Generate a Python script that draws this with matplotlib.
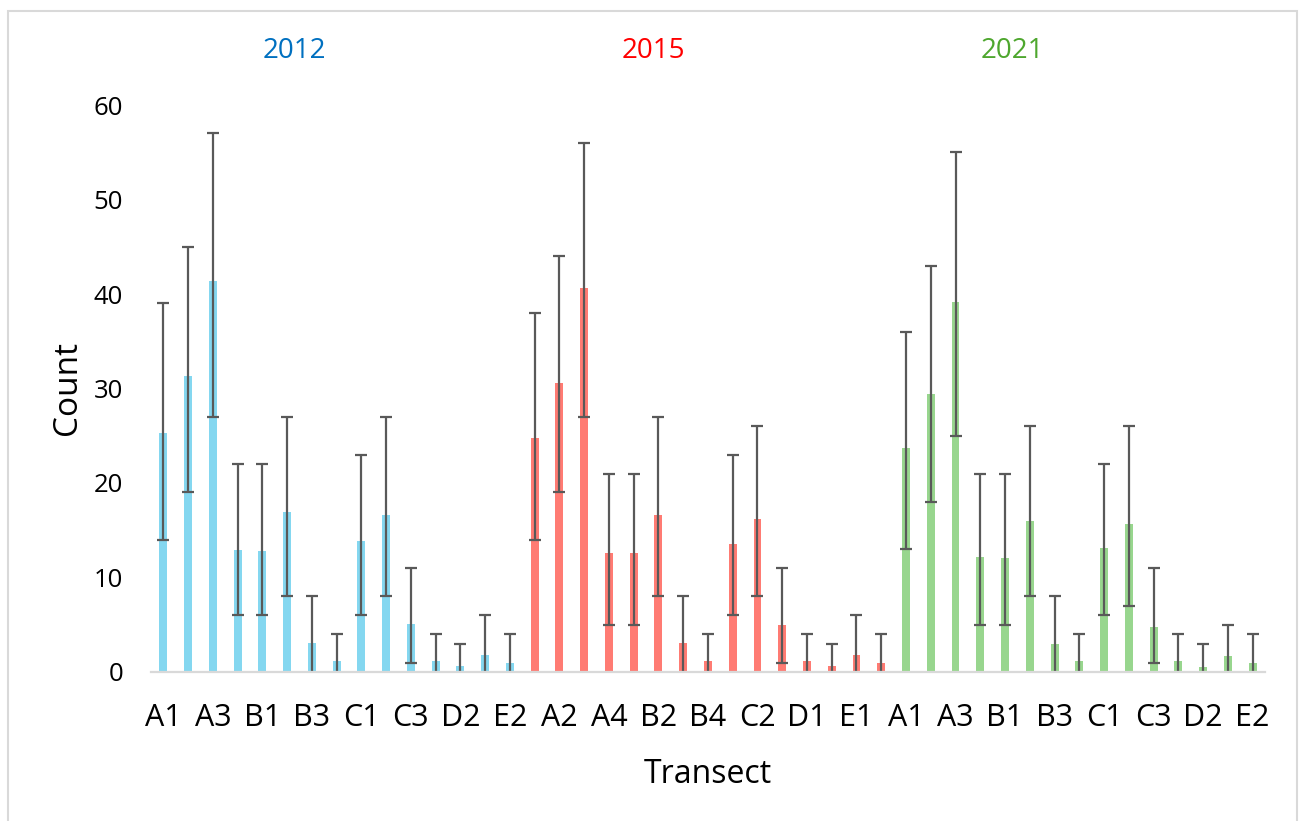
import matplotlib
matplotlib.use("Agg")
import matplotlib.pyplot as plt
import matplotlib.transforms as mtransforms
from matplotlib.patches import Rectangle
import numpy as np

plt.rcParams['font.family'] = ['Open Sans', 'DejaVu Sans']

# transects sampled in every survey year
transects = ["A1", "A2", "A3", "A4", "B1", "B2", "B3", "B4",
             "C1", "C2", "C3", "D1", "D2", "E1", "E2"]
years = ["2012", "2015", "2021"]

# mean counts and interval bounds per transect
mean_2012 = [25.3, 31.3, 41.4, 12.9, 12.8, 16.9, 3.1, 1.2, 13.9, 16.6, 5.1, 1.2, 0.6, 1.8, 0.9]
upper_2012 = [39, 45, 57, 22, 22, 27, 8, 4, 23, 27, 11, 4, 3, 6, 4]
lower_2012 = [14, 19, 27, 6, 6, 8, -2, -2, 6, 8, 1, -2, -2, -2, -2]

mean_2015 = [24.8, 30.6, 40.6, 12.6, 12.6, 16.6, 3.1, 1.2, 13.5, 16.2, 5.0, 1.2, 0.6, 1.8, 0.9]
upper_2015 = [38, 44, 56, 21, 21, 27, 8, 4, 23, 26, 11, 4, 3, 6, 4]
lower_2015 = [14, 19, 27, 5, 5, 8, -2, -2, 6, 8, 1, -2, -2, -2, -2]

mean_2021 = [23.7, 29.4, 39.2, 12.2, 12.1, 16.0, 3.0, 1.2, 13.1, 15.7, 4.8, 1.2, 0.5, 1.7, 0.9]
upper_2021 = [36, 43, 55, 21, 21, 26, 8, 4, 22, 26, 11, 4, 3, 5, 4]
lower_2021 = [13, 18, 25, 5, 5, 8, -2, -2, 6, 7, 1, -2, -2, -2, -2]

bar_colors = ["#84D7F0", "#FF7B73", "#98D68E"]
year_colors = ["#0070C0", "#FF0000", "#4EA72E"]

groups = [(mean_2012, lower_2012, upper_2012),
          (mean_2015, lower_2015, upper_2015),
          (mean_2021, lower_2021, upper_2021)]

fig = plt.figure(figsize=(12.99, 8.21), dpi=100)
ax = fig.add_axes([0.1162, 0.1815, 0.8576, 0.6906])

n = len(transects)
for g, (m, lo, hi) in enumerate(groups):
    x = np.arange(n) + g * n
    m = np.array(m)
    yerr = [m - np.array(lo), np.array(hi) - m]
    ax.bar(x, m, width=0.32, color=bar_colors[g], zorder=2,
           yerr=yerr, capsize=4.5,
           error_kw=dict(ecolor="#595959", elinewidth=1.6, capthick=1.6, zorder=3))

all_labels = transects * 3
ticks = np.arange(0, 3 * n, 2)
ax.set_xticks(ticks)
ax.set_xticklabels([all_labels[i] for i in ticks], fontsize=22)
ax.set_xlim(-0.5, 3 * n - 0.5)
ax.set_ylim(0, 60)
ax.set_yticks(range(0, 61, 10))
ax.tick_params(axis='y', labelsize=18.5, length=0, pad=20)
ax.tick_params(axis='x', length=0, pad=22)

for s in ["top", "right", "left"]:
    ax.spines[s].set_visible(False)
ax.spines["bottom"].set_color("#D9D9D9")
ax.spines["bottom"].set_linewidth(1.6)
ax.spines["bottom"].set_zorder(4)

ax.set_xlabel("Transect", fontsize=23, labelpad=18)
ax.set_ylabel("Count", fontsize=24, labelpad=7)

# year headings above each group
trans = mtransforms.blended_transform_factory(ax.transData, ax.transAxes)
for g, yr in enumerate(years):
    ax.text(5.3 + g * 14.5, 1.095, yr, transform=trans, ha="center", va="center",
            fontsize=20, color=year_colors[g])

# chart frame
fig.add_artist(Rectangle((0.0058, -0.05), 0.9923, 1.037, transform=fig.transFigure,
                         fill=False, edgecolor="#D9D9D9", linewidth=1.5))

fig.savefig("out.png", dpi=100)
